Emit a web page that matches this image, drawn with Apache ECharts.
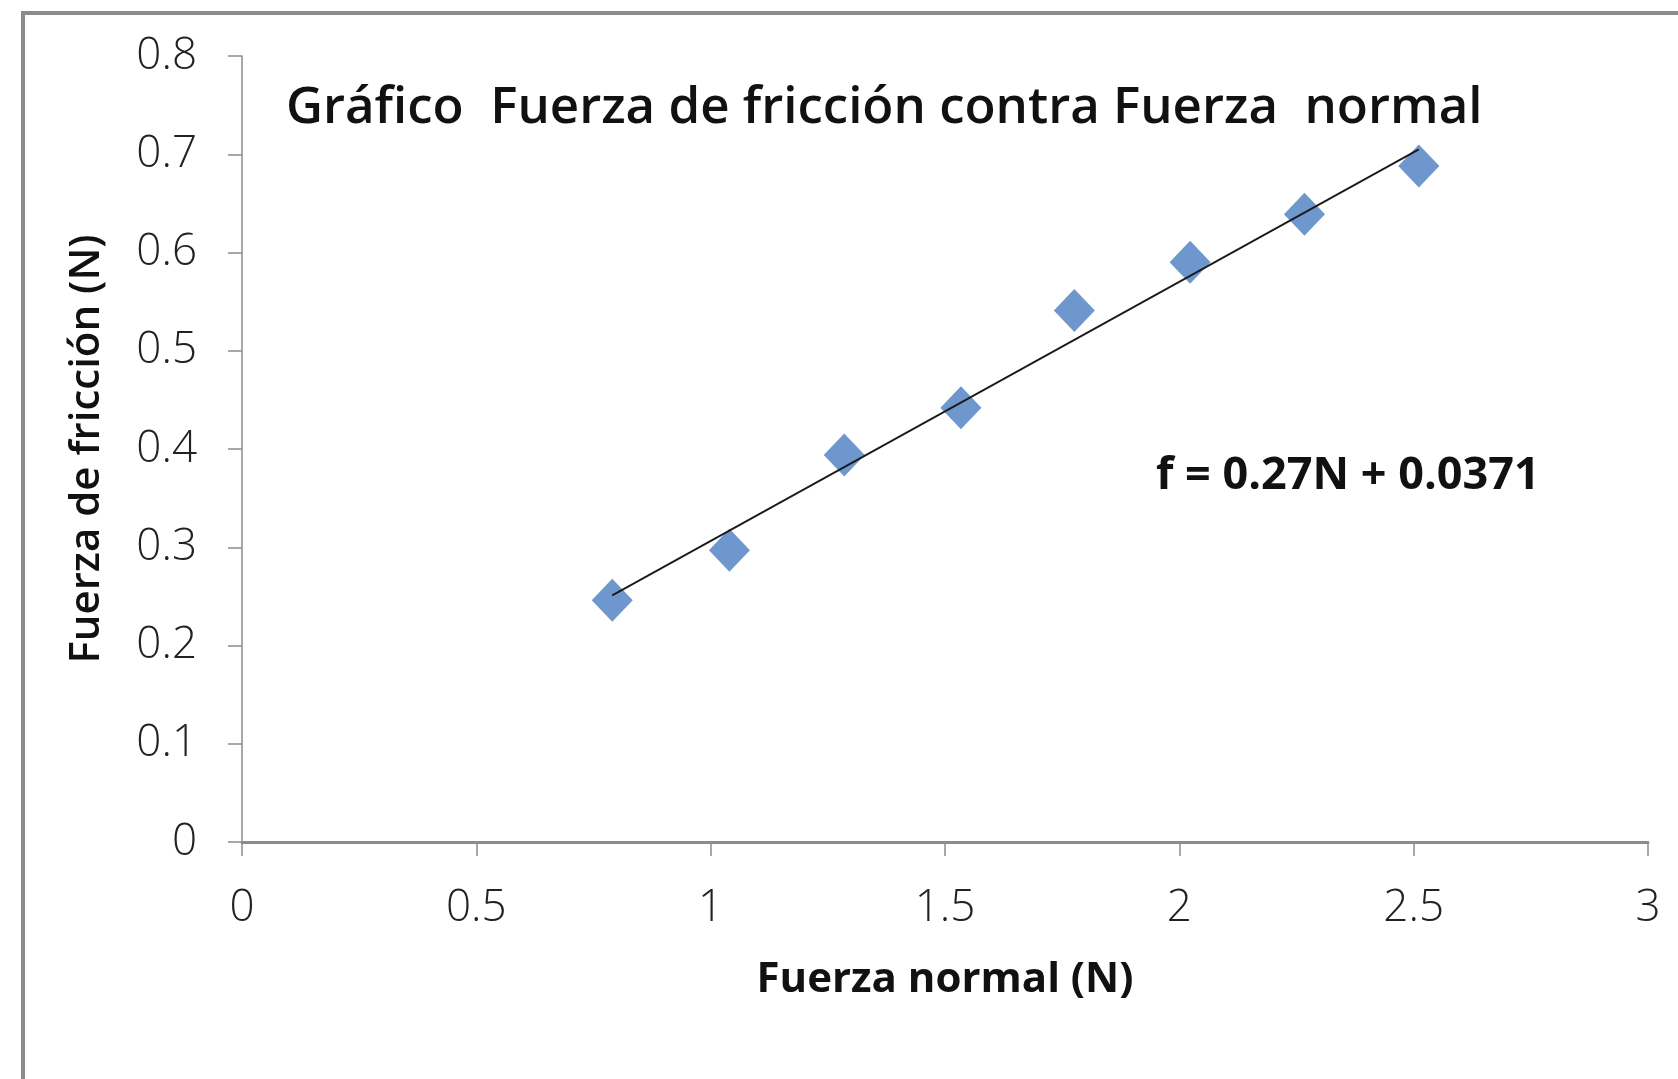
<!DOCTYPE html>
<html>
<head>
<meta charset="utf-8">
<script src="https://cdn.jsdelivr.net/npm/echarts@6/dist/echarts.min.js"></script>
<style>
html,body{margin:0;padding:0;background:#fff;}
#chart{width:1678px;height:1079px;}
</style>
</head>
<body>
<div id="chart"></div>
<script>
// Data
const normalForce = [0.79, 1.04, 1.285, 1.534, 1.776, 2.023, 2.267, 2.511];
const frictionForce = [0.246, 0.297, 0.394, 0.442, 0.541, 0.590, 0.639, 0.688];
const trendX = [0.79, 2.511];
const trendY = [0.251, 0.705];
const xTicks = [0, 0.5, 1, 1.5, 2, 2.5, 3];
const yTicks = [0, 0.1, 0.2, 0.3, 0.4, 0.5, 0.6, 0.7, 0.8];
const titleText = 'Gráfico  Fuerza de fricción contra Fuerza  normal';
const equationText = 'f = 0.27N + 0.0371';
const xName = 'Fuerza normal (N)';
const yName = 'Fuerza de fricción (N)';

const FONT = 'Open Sans';
const chart = echarts.init(document.getElementById('chart'));
chart.setOption({
  backgroundColor: '#fff',
  animation: false,
  title: {
    text: titleText,
    left: 281, top: 78,
    textStyle: {fontFamily: FONT, fontSize: 51, fontWeight: 600, color: '#111'}
  },
  grid: {left: 242, right: 30, top: 56, bottom: 237, containLabel: false},
  xAxis: {
    type: 'value', min: 0, max: 3, interval: 0.5,
    name: xName, nameLocation: 'middle', nameGap: 117,
    nameTextStyle: {fontFamily: FONT, fontSize: 42, fontWeight: 'bold', color: '#111'},
    axisLine: {show: true, lineStyle: {color: '#8c8c8c', width: 3}},
    axisTick: {show: true, length: 14, lineStyle: {color: '#8c8c8c', width: 1.5}},
    axisLabel: {fontFamily: FONT, fontSize: 44, fontWeight: 300, color: '#222', margin: 44,
      formatter: v => xTicks.includes(v) ? String(v) : ''},
    splitLine: {show: false}
  },
  yAxis: {
    type: 'value', min: 0, max: 0.8, interval: 0.1,
    name: yName, nameLocation: 'middle', nameGap: 134, nameRotate: 90,
    nameTextStyle: {fontFamily: FONT, fontSize: 42, fontWeight: 600, color: '#111'},
    axisLine: {show: true, lineStyle: {color: '#8c8c8c', width: 1.5}},
    axisTick: {show: true, length: 14, lineStyle: {color: '#8c8c8c', width: 1.5}},
    axisLabel: {fontFamily: FONT, fontSize: 44, fontWeight: 300, color: '#222', margin: 45,
      formatter: v => yTicks.some(t => Math.abs(t - v) < 1e-9) ? String(Math.round(v * 10) / 10) : ''},
    splitLine: {show: false}
  },
  graphic: [
    {type: 'rect', shape: {x: 23, y: 13, width: 1700, height: 1100},
     style: {fill: 'none', stroke: '#8c8c8c', lineWidth: 4}, silent: true, z: -1},
    {type: 'text', left: 1156, top: 454,
     style: {text: equationText, fontFamily: FONT, fontSize: 45, fontWeight: 'bold', fill: '#111'}}
  ],
  series: [
    {
      type: 'line', name: 'trend',
      data: trendX.map((x, i) => [x, trendY[i]]),
      symbol: 'none',
      lineStyle: {color: '#1a1a1a', width: 1.8},
      z: 3
    },
    {
      type: 'scatter', name: 'data',
      data: normalForce.map((x, i) => [x, frictionForce[i]]),
      symbol: 'diamond', symbolSize: [41, 43],
      itemStyle: {color: '#4a7dc2'},
      z: 2
    }
  ]
});
</script>
</body>
</html>
